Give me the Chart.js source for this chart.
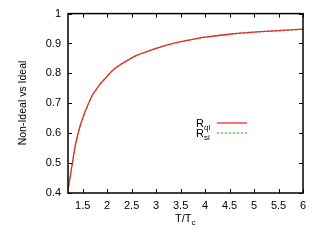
<!DOCTYPE html>
<html>
<head>
<meta charset="utf-8">
<script src="https://cdn.jsdelivr.net/npm/chart.js@4"></script>
<style>
  html, body { margin: 0; padding: 0; background: #fff; }
  #wrap { width: 320px; height: 240px; }
</style>
</head>
<body>
<div id="wrap"><canvas id="ratio-graph" width="320" height="240"></canvas></div>
<script>
// values
const tempRatio = [1.20, 1.25, 1.30, 1.35, 1.40, 1.45, 1.50, 1.55, 1.60, 1.65, 1.70, 1.75, 1.85, 2.0, 2.1, 2.25, 2.4, 2.6, 2.8, 3.0, 3.25, 3.5, 3.75, 4.0, 4.5, 5.0, 5.5, 6.0];
const ratioQl   = [0.41, 0.46, 0.51, 0.56, 0.595, 0.625, 0.65, 0.672, 0.692, 0.71, 0.728, 0.74, 0.763, 0.79, 0.808, 0.827, 0.842, 0.86, 0.872, 0.884, 0.896, 0.906, 0.914, 0.921, 0.931, 0.938, 0.943, 0.948];
const ratioSi   = [0.41, 0.46, 0.51, 0.56, 0.595, 0.625, 0.65, 0.672, 0.692, 0.71, 0.728, 0.74, 0.763, 0.79, 0.808, 0.827, 0.842, 0.86, 0.872, 0.884, 0.896, 0.906, 0.914, 0.921, 0.931, 0.938, 0.943, 0.948];
const xTicks = [1.5, 2, 2.5, 3, 3.5, 4, 4.5, 5, 5.5, 6];
const yTicks = [0.4, 0.5, 0.6, 0.7, 0.8, 0.9, 1];

const font = "Liberation Sans, Arial, sans-serif";

function toPoints(xs, ys) {
    return xs.map((x, i) => ({ x: x, y: ys[i] }));
}

// box, inward ticks on all sides, titles and legend, gnuplot style
const gnuplotFrame = {
    id: 'gnuplotFrame',
    afterDraw(chart) {
        const c = chart.ctx;
        const a = chart.chartArea;
        const sx = chart.scales.x, sy = chart.scales.y;
        c.save();
        c.strokeStyle = '#000';
        c.lineWidth = 1.5;
        c.strokeRect(a.left, a.top, a.right - a.left, a.bottom - a.top);
        c.lineWidth = 1;
        c.beginPath();
        xTicks.forEach(v => {
            const px = Math.round(sx.getPixelForValue(v)) + 0.5;
            c.moveTo(px, a.bottom); c.lineTo(px, a.bottom - 4);
            c.moveTo(px, a.top); c.lineTo(px, a.top + 4);
        });
        yTicks.forEach(v => {
            const py = Math.round(sy.getPixelForValue(v)) + 0.5;
            c.moveTo(a.left, py); c.lineTo(a.left + 4, py);
            c.moveTo(a.right, py); c.lineTo(a.right - 4, py);
        });
        c.stroke();

        c.fillStyle = '#000';
        c.textBaseline = 'alphabetic';
        // x title T/T_c
        c.font = '11px ' + font;
        c.textAlign = 'left';
        c.fillText('T/T', 175, 222);
        const w = c.measureText('T/T').width;
        c.font = '8px ' + font;
        c.fillText('c', 175 + w, 225);

        // y title
        c.font = '10.5px ' + font;
        c.save();
        c.translate(26, 103);
        c.rotate(-Math.PI / 2);
        c.textAlign = 'center';
        c.fillText('Non-Ideal vs Ideal', 0, 0);
        c.restore();

        // legend
        const rows = [
            { sub: 'ql', y: 127, ds: chart.data.datasets[0] },
            { sub: 'si', y: 137, ds: chart.data.datasets[1] }
        ];
        rows.forEach(r => {
            c.font = '11px ' + font;
            c.textAlign = 'left';
            c.fillStyle = '#000';
            c.fillText('R', 196, r.y);
            const rw = c.measureText('R').width;
            c.font = '8px ' + font;
            c.fillText(r.sub, 196 + rw, r.y + 3);
            c.strokeStyle = r.ds.borderColor;
            c.lineWidth = r.ds.borderWidth;
            c.setLineDash(r.ds.borderDash || []);
            c.beginPath();
            c.moveTo(217, r.y - 4);
            c.lineTo(247, r.y - 4);
            c.stroke();
            c.setLineDash([]);
        });
        c.restore();
    }
};

const ctx = document.getElementById('ratio-graph').getContext('2d');
const ratioChart = new Chart(ctx, {
    type: 'line',
    data: {
        datasets: [{
            label: 'R_ql',
            data: toPoints(tempRatio, ratioQl),
            borderColor: 'rgb(240, 40, 40)',
            borderWidth: 1.3,
            pointRadius: 0,
            cubicInterpolationMode: 'monotone',
            fill: false
        }, {
            label: 'R_si',
            data: toPoints(tempRatio, ratioSi),
            borderColor: 'rgb(40, 200, 40)',
            borderWidth: 1.3,
            borderDash: [2, 2],
            pointRadius: 0,
            cubicInterpolationMode: 'monotone',
            fill: false
        }]
    },
    options: {
        responsive: false,
        animation: false,
        layout: { padding: { top: 13, right: 17, left: 0, bottom: 0 } },
        plugins: { legend: { display: false }, tooltip: { enabled: false } },
        scales: {
            x: {
                type: 'linear',
                min: 1.2,
                max: 6,
                afterBuildTicks: s => { s.ticks = xTicks.map(v => ({ value: v })); },
                afterFit: s => { s.height = 47; },
                grid: { display: false, drawTicks: false },
                border: { display: false },
                ticks: {
                    padding: 6,
                    maxRotation: 0,
                    autoSkip: false,
                    color: '#000',
                    font: { family: font, size: 11 },
                    callback: v => String(v)
                }
            },
            y: {
                min: 0.4,
                max: 1,
                afterBuildTicks: s => { s.ticks = yTicks.map(v => ({ value: v })); },
                afterFit: s => { s.width = 68; },
                grid: { display: false, drawTicks: false },
                border: { display: false },
                ticks: {
                    padding: 7,
                    color: '#000',
                    font: { family: font, size: 11 },
                    callback: v => String(Math.round(v * 10) / 10)
                }
            }
        }
    },
    plugins: [gnuplotFrame]
});
</script>
</body>
</html>
